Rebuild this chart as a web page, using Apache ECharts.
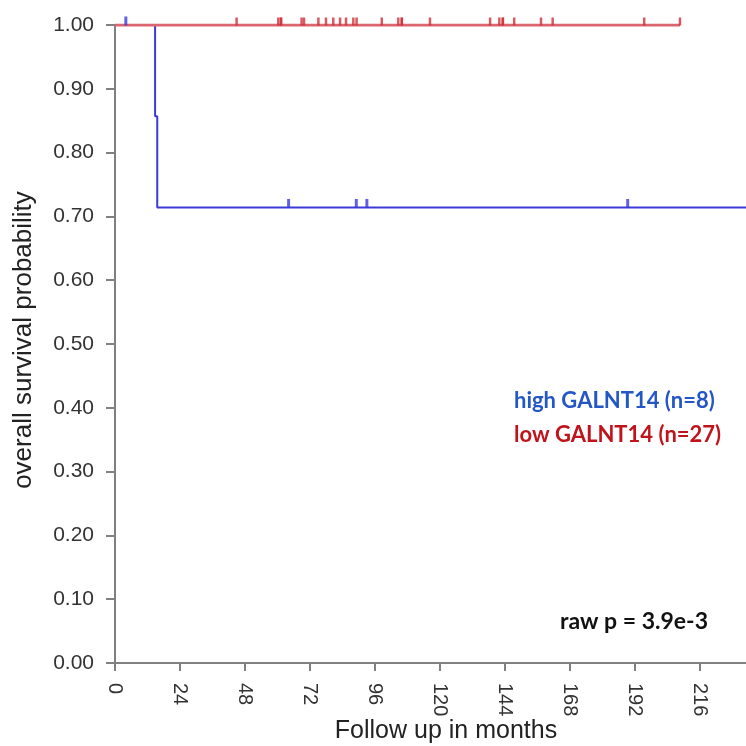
<!DOCTYPE html>
<html>
<head>
<meta charset="utf-8">
<script src="https://cdn.jsdelivr.net/npm/echarts@6/dist/echarts.min.js"></script>
<style>
html, body { margin: 0; padding: 0; background: #fff; }
#main { width: 746px; height: 746px; }
</style>
</head>
<body>
<div id="main"></div>
<script>
// Kaplan-Meier: high vs low GALNT14
var xTicks = [0, 24, 48, 72, 96, 120, 144, 168, 192, 216, 240];

// high GALNT14 (n=8): step points (month, survival)
var highTimes = [0, 14.8, 15.6, 240];
var highSurv = [1, 0.857, 0.714, 0.714];
var highCensorTimes = [4, 64.1, 89.1, 93.0, 189.3, 236];
var highCensorSurv = [1, 0.714, 0.714, 0.714, 0.714, 0.714];

// low GALNT14 (n=27): no events, all censored
var lowTimes = [0, 208.6];
var lowSurv = [1, 1];
var lowCensorTimes = [44.9, 60.3, 61.3, 61.3, 68.9, 69.8, 75.1, 77.9, 80.6, 83.1, 85.3, 88.0, 89.2,
  98.5, 104.6, 105.9, 105.9, 116.3, 138.5, 141.9, 143.2, 143.2, 147.4, 157.3, 161.6, 195.4, 208.6];

function pairs(xs, ys) {
  return xs.map(function (x, i) { return [x, ys[i]]; });
}
function censorPairs(xs, ys) {
  return xs.map(function (x, i) { return [x, ys.length === 1 ? ys[0] : ys[i]]; });
}

var blue = '#3b3bd8';
var red = '#dc6670';
var redTick = '#cf3038';

var chart = echarts.init(document.getElementById('main'));
var option = {
  backgroundColor: '#fff',
  animation: false,
  // x scale runs past the right edge (240 months sits off-canvas)
  grid: { left: 115, top: 25, width: 650, bottom: 83, outerBoundsMode: 'none', containLabel: false },
  xAxis: {
    type: 'value',
    min: xTicks[0],
    max: xTicks[xTicks.length - 1],
    interval: 24,
    offset: 4,
    axisLine: { lineStyle: { color: '#808080', width: 2 } },
    axisTick: { length: 8, lineStyle: { color: '#808080', width: 2 } },
    axisLabel: {
      rotate: -90, margin: 16, color: '#333',
      fontFamily: 'Liberation Sans', fontSize: 20,
      showMaxLabel: false
    },
    splitLine: { show: false }
  },
  yAxis: {
    type: 'value',
    min: 0,
    max: 1,
    interval: 0.1,
    offset: 5,
    axisLine: { show: true, lineStyle: { color: '#808080', width: 2 } },
    axisTick: { show: true, length: 9, lineStyle: { color: '#808080', width: 2 } },
    axisLabel: {
      margin: 16, color: '#333',
      fontFamily: 'Liberation Sans', fontSize: 21,
      formatter: function (v) { return v.toFixed(2); }
    },
    splitLine: { show: false }
  },
  graphic: [
    { type: 'text', x: 24, y: 340, rotation: Math.PI / 2,
      style: { text: 'overall survival probability', font: '26px "Liberation Sans"', fill: '#222', align: 'center', verticalAlign: 'middle' } },
    { type: 'text', x: 446, y: 744,
      style: { text: 'Follow up in months', font: '25px "Liberation Sans"', fill: '#222', align: 'center', verticalAlign: 'bottom' } },
    { type: 'text', x: 514, y: 401,
      style: { text: 'high GALNT14 (n=8)', font: 'bold 22px Lato', fill: '#2356c6', align: 'left', verticalAlign: 'middle' } },
    { type: 'text', x: 514, y: 435,
      style: { text: 'low GALNT14 (n=27)', font: 'bold 22px Lato', fill: '#c0141c', align: 'left', verticalAlign: 'middle' } },
    { type: 'text', x: 634, y: 622,
      style: { text: 'raw p = 3.9e-3', font: 'bold 23px Lato', fill: '#111', align: 'center', verticalAlign: 'middle' } }
  ],
  series: [
    {
      name: 'high GALNT14', type: 'line', step: 'end', symbol: 'none',
      lineStyle: { color: blue, width: 2 },
      data: pairs(highTimes, highSurv), z: 2
    },
    {
      name: 'high censored', type: 'scatter', symbol: 'rect',
      symbolSize: [3, 9], symbolOffset: [0, -4],
      itemStyle: { color: blue },
      data: censorPairs(highCensorTimes, highCensorSurv), z: 4
    },
    {
      name: 'low GALNT14', type: 'line', symbol: 'none',
      lineStyle: { color: red, width: 3 },
      data: pairs(lowTimes, lowSurv), z: 3
    },
    {
      name: 'low censored', type: 'scatter', symbol: 'rect',
      symbolSize: [2.5, 8], symbolOffset: [0, -3.5],
      itemStyle: { color: redTick },
      data: censorPairs(lowCensorTimes, [1]), z: 4
    }
  ]
};
chart.setOption(option);
</script>
</body>
</html>
